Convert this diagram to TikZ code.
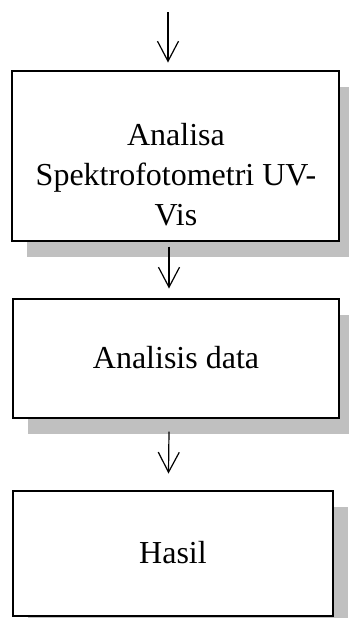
\documentclass[tikz,border=0pt]{standalone}
\usepackage{fontspec}
\setmainfont{Liberation Serif}
\usepackage{tikz}
\definecolor{shadowgray}{RGB}{192,192,192}
\usetikzlibrary{arrows.meta, positioning, shadows, calc}
\tikzset{
    flowbox/.style={draw, fill=white, line width=1pt, outer sep=0pt, align=center,
        font=\fontsize{16pt}{20pt}\selectfont,
        drop shadow={shadow xshift=7.5pt, shadow yshift=-8pt, fill=shadowgray, opacity=1}},
    flowtext/.style={align=center, inner sep=0pt, font=\fontsize{16pt}{20pt}\selectfont},
    flowarrow/.style={-{Straight Barb[length=10pt, width=10.5pt]}, line width=0.6pt}
}

\begin{document}
\begin{tikzpicture}
  \useasboundingbox (0,0) rectangle (174.5pt,-309pt);
  \coordinate (start) at (84pt,-6pt);
  % Process boxes, top to bottom
  \node[flowbox, minimum width=163.5pt, minimum height=85pt] (uvvis) at (88pt,-77.75pt) {};
  \node[flowtext] (uvvistext) at ([yshift=-9.75pt]uvvis.center)
        {Analisa\\Spektrofotometri UV-\\Vis};
  \node[flowbox, minimum width=163pt, minimum height=59.5pt, below=29pt of uvvis]
        (analisis) {Analisis data};
  \node[flowbox, minimum width=160pt, minimum height=62.5pt, below=36.5pt of analisis,
        xshift=-1.5pt] (hasil) {Hasil};
  % Flow arrows, set a little left of the box centres
  \draw[flowarrow] (start) -- ([xshift=-4pt, yshift=4pt]uvvis.north);
  \draw[flowarrow] ([xshift=-3.5pt, yshift=-3pt]uvvis.south)
        -- ([xshift=-3.5pt, yshift=5pt]analisis.north);
  \draw[flowarrow] ([xshift=-3.5pt, yshift=-7pt]analisis.south)
        -- ([xshift=-2.25pt, yshift=8.5pt]hasil.north);
\end{tikzpicture}
\end{document}
